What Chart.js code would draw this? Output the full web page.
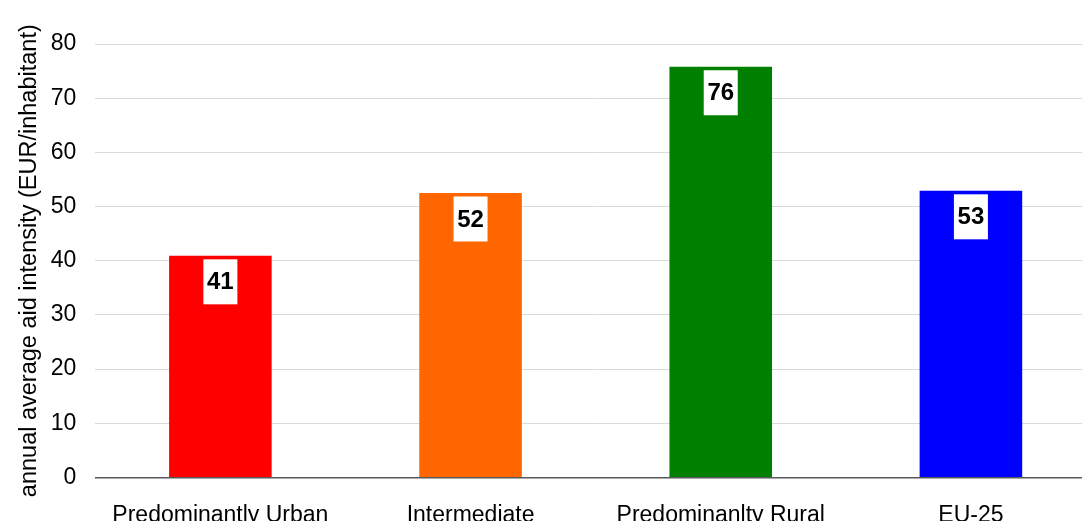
<!DOCTYPE html>
<html><head><meta charset="utf-8">
<script src="https://cdn.jsdelivr.net/npm/chart.js@4/dist/chart.umd.min.js"></script>
<style>html,body{margin:0;padding:0;overflow:hidden;background:#fff;}#wrap{width:1096px;height:553px;}</style>
</head><body><div id="wrap"><canvas id="c" width="1096" height="553"></canvas></div>
<script>
const categories = ["Predominantly Urban", "Intermediate", "Predominanlty Rural", "EU-25"];
const values = [40.9, 52.5, 75.8, 52.9];
const valueLabels = ["41", "52", "76", "53"];
const barColors = ["#ff0000", "#ff6600", "#008000", "#0000ff"];
const yTicks = [0, 10, 20, 30, 40, 50, 60, 70, 80];

const FONT = "'Liberation Sans', Arial, sans-serif";

const labelBoxes = {
  id: 'labelBoxes',
  afterDatasetsDraw(chart) {
    const ctx = chart.ctx;
    const meta = chart.getDatasetMeta(0);
    ctx.save();
    meta.data.forEach((bar, i) => {
      const w = 34, h = 45;
      const x = bar.x - w / 2;
      const y = bar.y + 3.5;
      ctx.fillStyle = '#ffffff';
      ctx.fillRect(x, y, w, h);
      ctx.fillStyle = '#000000';
      ctx.font = "bold 24px " + FONT;
      ctx.textAlign = 'center';
      ctx.textBaseline = 'middle';
      ctx.fillText(valueLabels[i], bar.x, y + h / 2 + 1);
    });
    ctx.restore();
  }
};

new Chart(document.getElementById('c'), {
  type: 'bar',
  data: {
    labels: categories,
    datasets: [{
      data: values,
      backgroundColor: barColors,
      borderWidth: 0,
      barPercentage: 0.41,
      categoryPercentage: 1.0
    }]
  },
  options: {
    responsive: false,
    animation: false,
    layout: { padding: { top: 44, right: 0, left: 15, bottom: 0 } },
    plugins: { legend: { display: false }, tooltip: { enabled: false } },
    scales: {
      x: {
        grid: { display: false, drawTicks: false },
        border: { display: true, color: '#595959', width: 1.5 },
        ticks: { color: '#000', font: { family: FONT, size: 23 }, padding: 24, maxRotation: 0 }
      },
      y: {
        min: 0, max: 80,
        afterBuildTicks(scale) { scale.ticks = yTicks.map(v => ({ value: v })); },
        grid: { color: '#d9d9d9', drawTicks: false, lineWidth: 1 },
        border: { display: false },
        ticks: { color: '#000', font: { family: FONT, size: 23 }, padding: 19 },
        title: { display: true, text: 'annual average aid intensity (EUR/inhabitant)', color: '#000', font: { family: FONT, size: 23.5 }, padding: { top: 0, bottom: -11.5 } }
      }
    }
  },
  plugins: [labelBoxes]
});
</script></body></html>
